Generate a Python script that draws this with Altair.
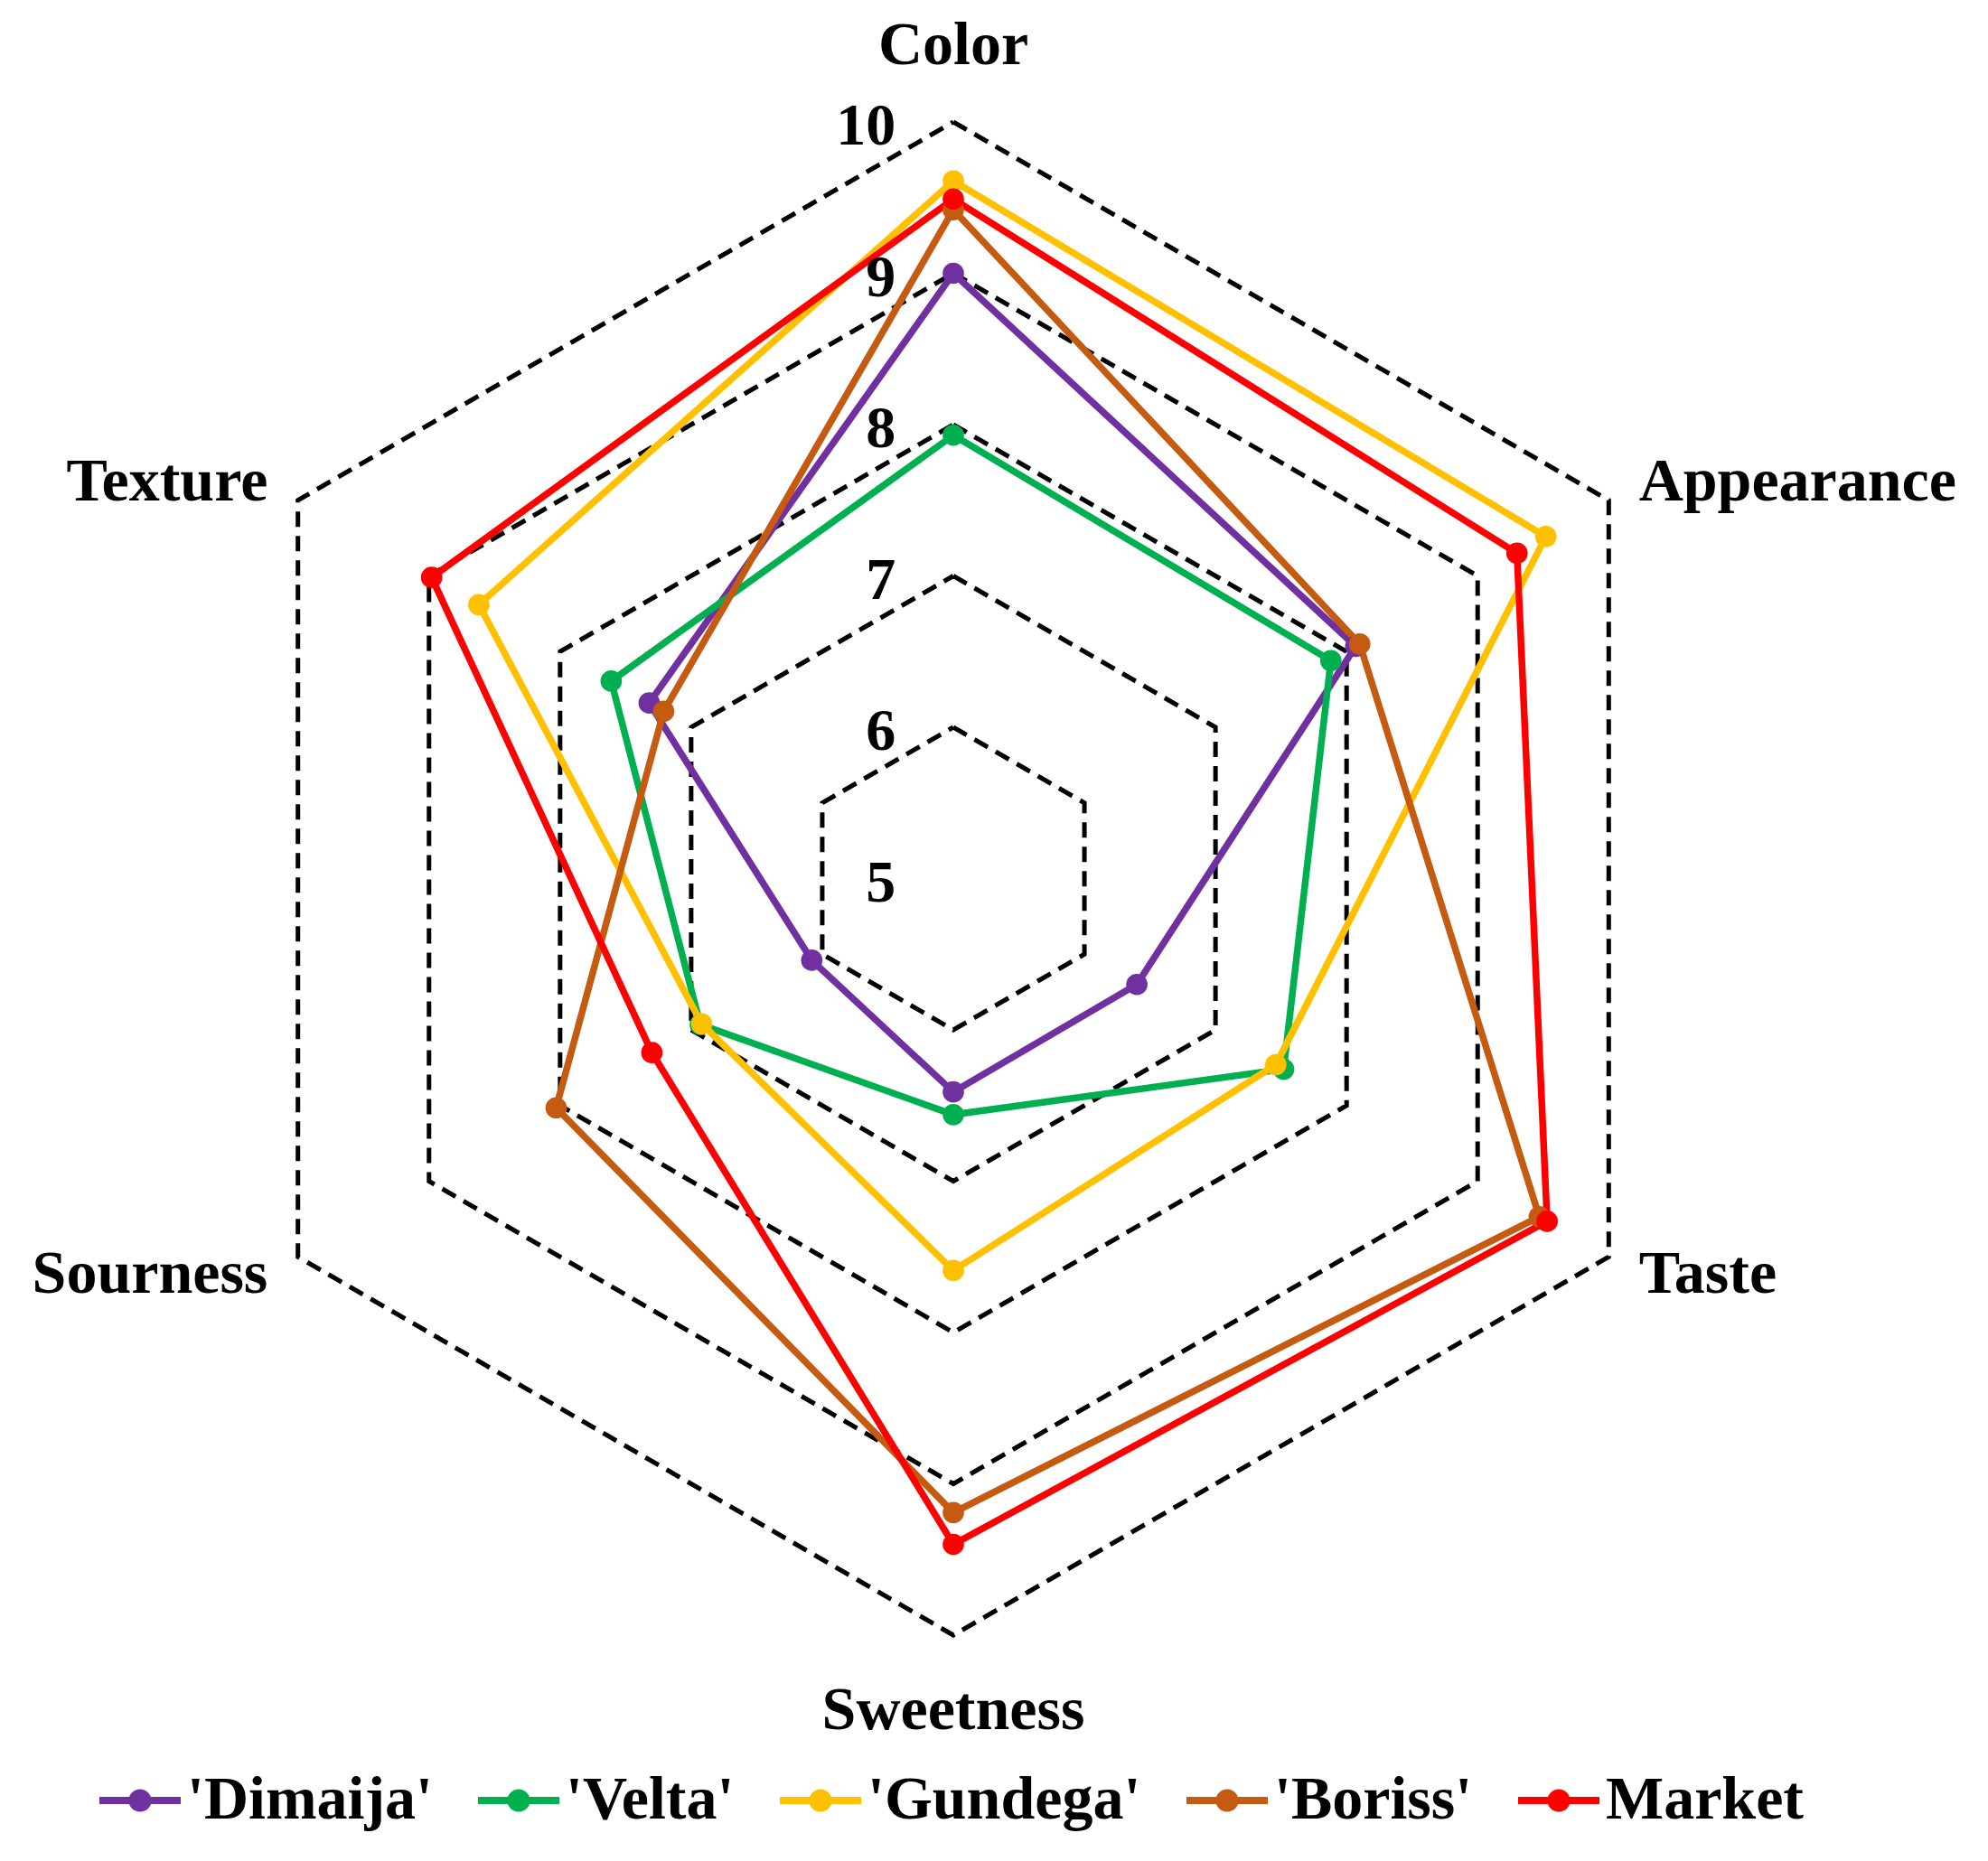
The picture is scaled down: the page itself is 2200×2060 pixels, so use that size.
import altair as alt
import pandas as pd

# ---------------- data ----------------
categories = ["Color", "Appearance", "Taste", "Sweetness", "Sourness", "Texture"]
series_names = ["'Dimaija'", "'Velta'", "'Gundega'", "'Boriss'", "Market"]
series_colors = ["#7030A0", "#00B050", "#FFC000", "#C55A11", "#FF0000"]

dimaija = [9.00, 8.07, 6.40, 6.41, 6.08, 7.32]
velta = [7.93, 7.88, 7.52, 6.56, 6.93, 7.61]
gundega = [9.61, 9.52, 7.46, 7.59, 6.92, 8.62]
boriss = [9.42, 8.10, 9.47, 9.19, 8.03, 7.21]
market = [9.49, 9.30, 9.53, 9.40, 7.30, 8.98]

grid_levels = [6, 7, 8, 9, 10]
tick_values = [5, 6, 7, 8, 9, 10]
r_min = 5

# ---------------- tables ----------------
rows = []
for name, vals in zip(series_names, [dimaija, velta, gundega, boriss, market]):
    for i in range(len(categories) + 1):
        rows.append({"series": name, "idx": i, "value": vals[i % len(categories)],
                     "category": categories[i % len(categories)]})
df = pd.DataFrame(rows)

grid_rows = []
for lv in grid_levels:
    for i in range(len(categories) + 1):
        grid_rows.append({"level": lv, "idx": i})
grid_df = pd.DataFrame(grid_rows)

cat_df = pd.DataFrame({"category": categories, "idx": list(range(len(categories)))})
tick_df = pd.DataFrame({"tick": tick_values})

# ---------------- geometry ----------------
PX = 167.5
CX, CY = 1047.0, 964.5
W, H = 2180, 2030
xs = alt.Scale(domain=[-CX / PX, (W - CX) / PX], nice=False, zero=False)
ys = alt.Scale(domain=[-(H - CY) / PX, CY / PX], nice=False, zero=False)

FONT = "Liberation Serif"

def xy(chart, rexpr):
    return chart.transform_calculate(
        ang="datum.idx * PI / 3",
    ).transform_calculate(
        rr=rexpr,
    ).transform_calculate(
        px="datum.rr * sin(datum.ang)",
        py="datum.rr * cos(datum.ang)",
    )

X = alt.X("px:Q", scale=xs, axis=None)
Y = alt.Y("py:Q", scale=ys, axis=None)

color_scale = alt.Scale(domain=series_names, range=series_colors)

LEG_PATH = ("M-1,-0.09H-0.25V0.09H-1Z M0.25,-0.09H1V0.09H0.25Z "
            "M-0.28,0A0.28,0.28 0 1,1 0.28,0A0.28,0.28 0 1,1 -0.28,0Z")

legend = alt.Legend(
    title=None, orient="none", legendX=102, legendY=1940,
    direction="horizontal", symbolType=LEG_PATH, symbolSize=8100,
    symbolStrokeWidth=0, symbolOpacity=1, symbolFillColor="black", labelFont=FONT,
    labelFontSize=68, labelFontWeight="bold", labelColor="black",
    labelLimit=2000, labelOffset=7, columnPadding=50, padding=0,
)

# grid hexagons
grid = xy(alt.Chart(grid_df), f"datum.level - {r_min}").mark_line(
    color="black", strokeWidth=5, strokeDash=[17, 10]
).encode(x=X, y=Y, detail="level:N", order="idx:Q")

# series lines
lines = xy(alt.Chart(df), f"datum.value - {r_min}").mark_line(
    strokeWidth=7.5
).encode(
    x=X, y=Y, order="idx:Q",
    color=alt.Color("series:N", scale=color_scale, legend=legend),
)

points = xy(alt.Chart(df), f"datum.value - {r_min}").transform_filter(
    f"datum.idx < {len(categories)}"
).mark_point(filled=True, size=560, opacity=1, shape="circle").encode(
    x=X, y=Y,
    color=alt.Color("series:N", scale=color_scale, legend=legend),
)

# tick labels
ticks = alt.Chart(tick_df).transform_calculate(
    px="-0.38", py=f"datum.tick - {r_min}", lab="'' + datum.tick"
).mark_text(
    font=FONT, fontSize=66, fontWeight="bold", align="right", baseline="middle",
    dy=5, color="black"
).encode(x=X, y=Y, text="lab:N")

# category labels
def cat_layer(filt, align, rexpr):
    return xy(alt.Chart(cat_df).transform_filter(filt), rexpr).mark_text(
        font=FONT, fontSize=68, fontWeight="bold", align=align, baseline="middle",
        color="black"
    ).encode(x=X, y=Y, text="category:N")

cat_center = cat_layer("datum.idx == 0 || datum.idx == 3", "center", "5.5")
cat_left = cat_layer("datum.idx == 1 || datum.idx == 2", "left", "5.23")
cat_right = cat_layer("datum.idx == 4 || datum.idx == 5", "right", "5.23")

chart = alt.layer(
    grid, lines, points, ticks, cat_center, cat_left, cat_right
).properties(
    width=W, height=H, padding=0, autosize="none", background="white"
).configure_view(stroke=None)

chart.save("out.html", embed_options={"renderer": "svg", "actions": False})
